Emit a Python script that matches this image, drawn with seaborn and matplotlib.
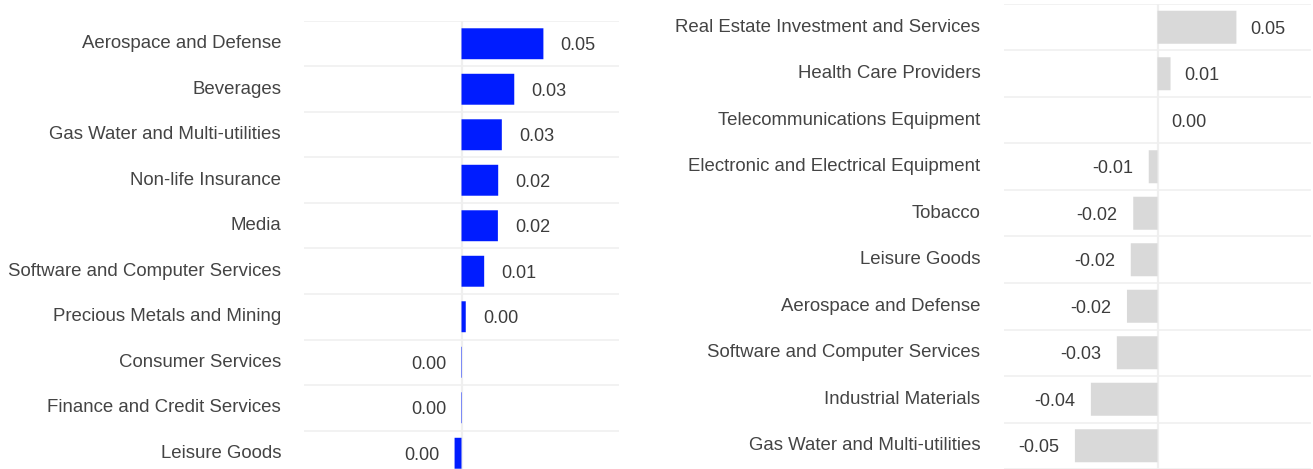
import matplotlib
matplotlib.use("Agg")
import matplotlib.pyplot as plt
from matplotlib.transforms import ScaledTranslation
import numpy as np
import pandas as pd
import seaborn as sns

# Sector contributions: top movers (left) and the comparison panel (right)
left_sectors = [
    "Aerospace and Defense",
    "Beverages",
    "Gas Water and Multi-utilities",
    "Non-life Insurance",
    "Media",
    "Software and Computer Services",
    "Precious Metals and Mining",
    "Consumer Services",
    "Finance and Credit Services",
    "Leisure Goods",
]
left_values = [0.052, 0.0335, 0.0256, 0.0233, 0.0231, 0.0144, 0.0027, -0.0003, -0.0003, -0.0044]

right_sectors = [
    "Real Estate Investment and Services",
    "Health Care Providers",
    "Telecommunications Equipment",
    "Electronic and Electrical Equipment",
    "Tobacco",
    "Leisure Goods",
    "Aerospace and Defense",
    "Software and Computer Services",
    "Industrial Materials",
    "Gas Water and Multi-utilities",
]
right_values = [0.0514, 0.0085, 0.0, -0.0057, -0.0158, -0.0174, -0.0199, -0.0265, -0.0434, -0.0538]

LEFT_COLOR = "#001cff"
RIGHT_COLOR = "#d9d9d9"
GRID_COLOR = "#f1f1f1"
LABEL_COLOR = "#444444"
VALUE_COLOR = "#3c3c3c"

sns.set_theme(style="white")
plt.rcParams["font.family"] = ["Liberation Sans", "DejaVu Sans"]

W, H = 1313, 469
fig = plt.figure(figsize=(W / 100, H / 100), dpi=100)


def axes_px(x0, y0, x1, y1):
    """Add an axes given its pixel box (top-left origin)."""
    return fig.add_axes([x0 / W, 1 - y1 / H, (x1 - x0) / W, (y1 - y0) / H])


def fmt(v):
    s = f"{v:.2f}"
    return "0.00" if s == "-0.00" else s


def draw_panel(ax, sectors, values, color, bar_h, pad_pos, pad_neg, label_pad):
    df = pd.DataFrame({"sector": sectors, "value": values})
    sns.barplot(data=df, x="value", y="sector", orient="h", color=color,
                saturation=1, width=bar_h, linewidth=0, ax=ax, zorder=3)
    for patch in ax.patches:
        patch.set_snap(False)
    n = len(sectors)
    ax.set_xlim(-0.1, 0.1)
    ax.set_ylim(n - 0.5, -0.5)

    # light row separators and zero line
    for b in np.arange(-0.5, n, 1.0):
        ax.axhline(b, color=GRID_COLOR, lw=1.3, zorder=1)
    ax.axvline(0, color="#efefef", lw=1.6, zorder=2)

    for i, v in enumerate(values):
        if v >= 0:
            ax.annotate(fmt(v), (v, i), xytext=(pad_pos, -2), textcoords="offset pixels",
                        ha="left", va="center", fontsize=13, color=VALUE_COLOR)
        else:
            ax.annotate(fmt(v), (v, i), xytext=(-pad_neg, -2), textcoords="offset pixels",
                        ha="right", va="center", fontsize=13, color=VALUE_COLOR)

    ax.set_xlabel("")
    ax.set_ylabel("")
    ax.set_xticks([])
    ax.tick_params(axis="y", length=0, pad=label_pad, labelsize=13.4, labelcolor=LABEL_COLOR)
    lift = ScaledTranslation(0, 2 / 100, fig.dpi_scale_trans)
    for lbl in ax.get_yticklabels():
        lbl.set_transform(lbl.get_transform() + lift)
    for s in ax.spines.values():
        s.set_visible(False)
    ax.set_facecolor("none")


ax_left = axes_px(304, 21, 619, 476)
ax_right = axes_px(1004, 4, 1311, 469)

draw_panel(ax_left, left_sectors, left_values, LEFT_COLOR, 0.68, 17, 15, 16.5)
draw_panel(ax_right, right_sectors, right_values, RIGHT_COLOR, 0.71, 14, 16, 17)

fig.savefig("out.png", dpi=100, facecolor="white")
